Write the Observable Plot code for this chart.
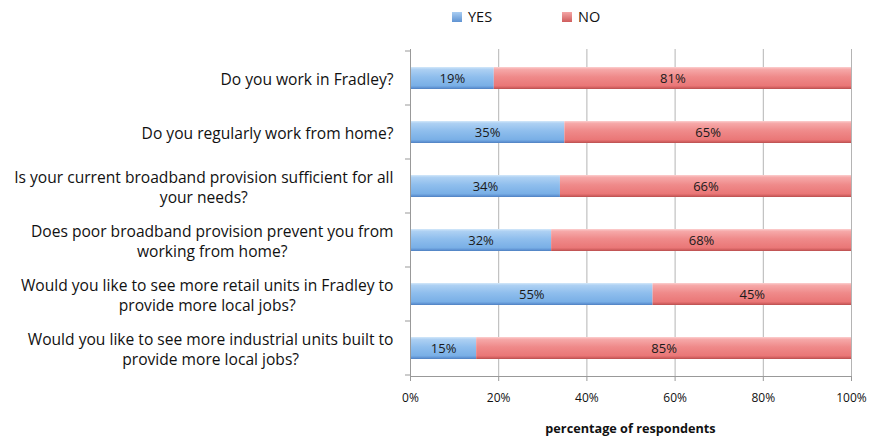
<!DOCTYPE html>
<html><head><meta charset="utf-8">
<script src="https://cdn.jsdelivr.net/npm/d3@7"></script>
<script src="https://cdn.jsdelivr.net/npm/@observablehq/plot@0.6"></script>
<style>
body{margin:0;background:#fff;font-family:"Open Sans",sans-serif}
#wrap{position:relative;width:869px;height:439px;overflow:hidden}
#chart svg{display:block}
.item{position:absolute;top:8px;display:flex;align-items:center;font-size:14.5px;color:#111;line-height:18px}
.sw{width:10px;height:10px;margin-right:6px;box-sizing:border-box}
#xtitle{position:absolute;left:410px;width:441px;top:419px;text-align:center;font-size:12.7px;font-weight:bold;color:#111}
</style></head><body>
<div id="wrap"><div id="chart"></div></div>
<script>
const questions = [
  "Do you work in Fradley?",
  "Do you regularly work from home?",
  "Is your current broadband provision sufficient for all your needs?",
  "Does poor broadband provision prevent you from working from home?",
  "Would you like to see more retail units in Fradley to provide more local jobs?",
  "Would you like to see more industrial units built to provide more local jobs?"
];
const labelLines = [
  "Do you work in Fradley?",
  "Do you regularly work from home?",
  "Is your current broadband provision sufficient for all\nyour needs?",
  "Does poor broadband provision prevent you from\nworking from home?",
  "Would you like to see more retail units in Fradley to\nprovide more local jobs?",
  "Would you like to see more industrial units built to\nprovide more local jobs?"
];
const yesValues = [19, 35, 34, 32, 55, 15];
const noValues = [81, 65, 66, 68, 45, 85];
const answers = ["YES", "NO"];
const xTicks = [0, 20, 40, 60, 80, 100];
const xTitle = "percentage of respondents";

const rows = questions.flatMap((q, i) => [
  {q, answer: "YES", value: yesValues[i]},
  {q, answer: "NO", value: noValues[i]}
]);

const plot = Plot.plot({
  width: 869, height: 439,
  marginLeft: 410, marginRight: 18, marginTop: 49, marginBottom: 63,
  style: {fontFamily: "'Open Sans', sans-serif", background: "#fff", color: "#111"},
  x: {domain: [0, 100]},
  y: {domain: questions, paddingInner: 0.6, paddingOuter: 0.3, label: null},
  color: {domain: answers, range: ["url(#gYes)", "url(#gNo)"]},
  marks: [
    Plot.gridX(xTicks, {stroke: "#b4b4b4", strokeOpacity: 1}),
    Plot.barX(rows, Plot.stackX({x: "value", y: "q", fill: "answer"})),
    Plot.textX(rows, Plot.stackX({x: "value", y: "q", z: "answer", text: d => d.value + "%", fontSize: 13, fill: "#1a1a1a"})),
    Plot.axisX(xTicks, {tickFormat: d => d + "%", tickSize: 5, tickPadding: 12, stroke: "#999", fontSize: 12, label: null}),
    Plot.axisY({tickSize: 0, tickPadding: 17, fontSize: 15.6, lineHeight: 1.3, label: null,
      tickFormat: q => labelLines[questions.indexOf(q)]}),
    Plot.frame({anchor: "bottom", stroke: "#999"}),
    Plot.frame({anchor: "left", stroke: "#999"})
  ]
});

document.getElementById("chart").appendChild(plot);
const svg = d3.select(plot);

// gradients
const defs = svg.insert("defs", ":first-child");
function grad(id, stops) {
  const g = defs.append("linearGradient").attr("id", id).attr("x1", 0).attr("y1", 0).attr("x2", 0).attr("y2", 1);
  stops.forEach(([o, c]) => g.append("stop").attr("offset", o).attr("stop-color", c));
}
grad("gYes", [[0, "#d4e8fa"], [0.1, "#aed1f3"], [0.45, "#8fbeed"], [0.85, "#79afe6"], [0.93, "#6397d6"], [1, "#4f80c0"]]);
grad("gNo", [[0, "#fcd0d0"], [0.1, "#f6a9a9"], [0.45, "#ef8a8a"], [0.85, "#ea7777"], [0.93, "#d46262"], [1, "#b94f4f"]]);

// center multi-line y labels
svg.selectAll('g[aria-label="y-axis tick label"] text').each(function() {
  const spans = d3.select(this).selectAll("tspan").nodes();
  if (spans.length < 2) return;
  const w = spans.map(s => s.getComputedTextLength());
  const m = Math.max(...w);
  spans.forEach((s, i) => s.setAttribute("dx", -(m - w[i]) / 2));
});

// band boundary ticks on y axis
const ys = plot.scale("y");
const g = svg.append("g").attr("stroke", "#999");
const x0 = plot.scale("x").apply(0);
const bounds = ys.domain.map(d => ys.apply(d) + ys.bandwidth / 2 - ys.step / 2);
bounds.push(ys.apply(ys.domain[ys.domain.length - 1]) + ys.bandwidth / 2 + ys.step / 2);
bounds.forEach(b => g.append("line").attr("x1", x0 - 5).attr("x2", x0).attr("y1", b).attr("y2", b));

// legend
const wrap = document.getElementById("wrap");
const legendPos = [{left: 452, c: "gYes"}, {left: 562, c: "gNo"}];
const swColors = {gYes: ["#a9cdf2", "#5f93d2"], gNo: ["#f4a6a6", "#cf5d5d"]};
answers.forEach((a, i) => {
  const it = document.createElement("div");
  it.className = "item";
  it.style.left = legendPos[i].left + "px";
  const sw = document.createElement("div");
  sw.className = "sw";
  const [c1, c2] = swColors[legendPos[i].c];
  sw.style.background = `linear-gradient(${c1}, ${c2})`;
  it.appendChild(sw);
  it.appendChild(document.createTextNode(a));
  wrap.appendChild(it);
});
const xt = document.createElement("div");
xt.id = "xtitle";
xt.textContent = xTitle;
wrap.appendChild(xt);
</script>
</body></html>
